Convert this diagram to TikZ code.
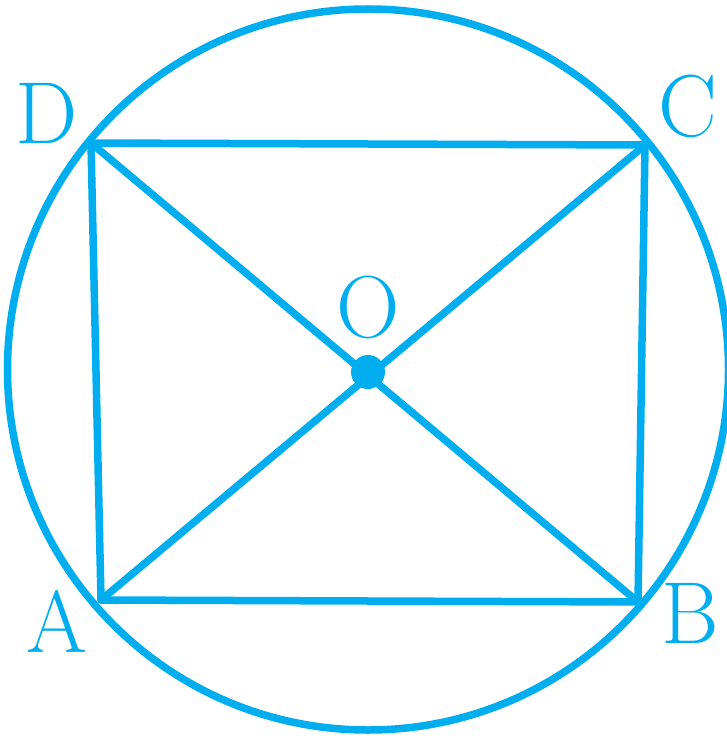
\documentclass[tikz,border=0pt]{standalone}
\usepackage{xcolor}
\usetikzlibrary{calc}

\definecolor{figcyan}{RGB}{0,174,239}

\begin{document}
\begin{tikzpicture}[
x=1pt, y=-1pt,
edge/.style={draw=figcyan, line width=7.5pt, line cap=round, line join=round},
vlabel/.style={text=figcyan, font=\fontsize{88}{88}\selectfont, inner sep=0pt}
]
\useasboundingbox (0,0) rectangle (727,738);

% --- Vertices ---
\coordinate (A) at (101,600);
\coordinate (B) at (638,602);
\coordinate (C) at (645,145);
\coordinate (D) at (91,143);
\coordinate (O) at (368,372);

% --- Circle ---
\draw[edge] (368,369.5) circle[radius=360.5pt];

% --- Rectangle and diagonals ---
\draw[edge] (A) -- (B) -- (C) -- (D) -- cycle;
\draw[edge] (A) -- (C);
\draw[edge] (B) -- (D);
\fill[figcyan] (O) circle[radius=17pt];

% --- Labels ---
\node[vlabel] (labD) at (47,113) {D};
\node[vlabel] (labC) at (688,106) {C};
\node[vlabel] (labA) at (57,621) {A};
\node[vlabel] (labB) at (690,613) {B};
\node[vlabel] (labO) at (368,307) {O};

\end{tikzpicture}
\end{document}
